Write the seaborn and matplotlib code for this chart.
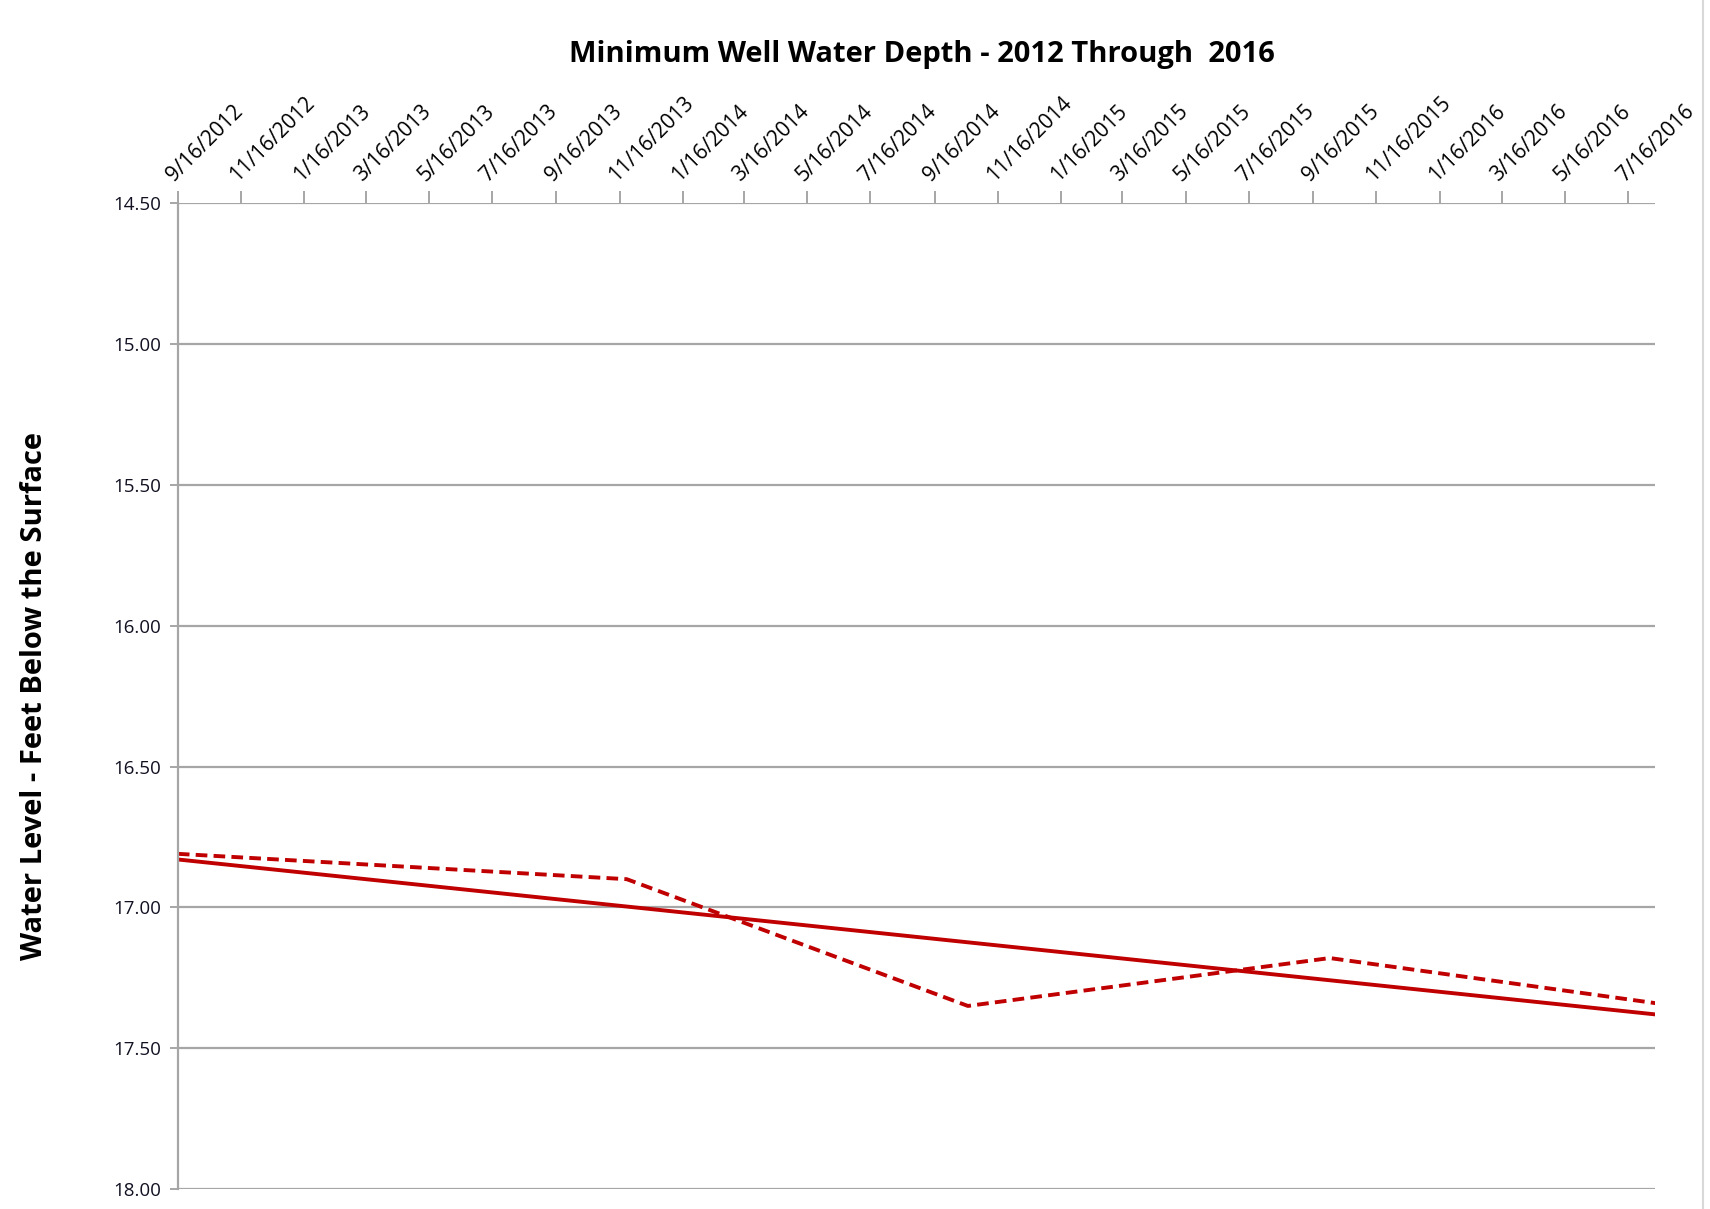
import numpy as np
import pandas as pd
import seaborn as sns
import matplotlib.pyplot as plt

# -------------------------
# Data
# -------------------------
obs_dates = ["2012-09-16", "2013-11-23", "2014-10-18", "2015-10-02", "2016-08-11"]
obs_depth = [16.81, 16.90, 17.35, 17.18, 17.34]

trend_dates = ["2012-09-16", "2016-08-11"]
trend_depth = [16.83, 17.38]

tick_labels = [
    "9/16/2012", "11/16/2012", "1/16/2013", "3/16/2013", "5/16/2013", "7/16/2013",
    "9/16/2013", "11/16/2013", "1/16/2014", "3/16/2014", "5/16/2014", "7/16/2014",
    "9/16/2014", "11/16/2014", "1/16/2015", "3/16/2015", "5/16/2015", "7/16/2015",
    "9/16/2015", "11/16/2015", "1/16/2016", "3/16/2016", "5/16/2016", "7/16/2016",
]
y_ticks = [14.5, 15.0, 15.5, 16.0, 16.5, 17.0, 17.5, 18.0]

obs = pd.DataFrame({"Date": pd.to_datetime(obs_dates), "Depth": obs_depth})
trend = pd.DataFrame({"Date": pd.to_datetime(trend_dates), "Depth": trend_depth})

# -------------------------
# Styling
# -------------------------
sns.set_style("white")
plt.rcParams["font.family"] = ["Open Sans", "DejaVu Sans"]

red = "#C00000"
grid = "#A6A6A6"

fig = plt.figure(figsize=(17.1, 12.09), dpi=100)
ax = fig.add_axes([0.104, 0.0165, 0.864, 0.8155])

sns.lineplot(data=obs, x="Date", y="Depth", ax=ax, color=red, linewidth=2.8,
             linestyle=(0, (3, 1.6)))
sns.lineplot(data=trend, x="Date", y="Depth", ax=ax, color=red, linewidth=2.8)

# inverted depth axis
ax.set_ylim(18.0, 14.5)
ax.set_yticks(y_ticks)
ax.set_yticklabels([f"{v:.2f}" for v in y_ticks], fontsize=13.5, color="#111122")
ax.yaxis.grid(True, color=grid, linewidth=1.6)
ax.set_axisbelow(True)

# date axis on top
tick_pos = pd.to_datetime(tick_labels, format="%m/%d/%Y")
ax.set_xlim(obs["Date"].iloc[0], obs["Date"].iloc[-1])
ax.xaxis.tick_top()
ax.set_xticks(tick_pos)
ax.set_xticklabels(tick_labels, rotation=45, ha="left", va="bottom",
                   rotation_mode="anchor", fontsize=15, color="black")
ax.tick_params(axis="x", which="major", length=9, width=1.4, color=grid, pad=4)
ax.tick_params(axis="y", which="major", length=6, width=1.4, color=grid, pad=6)
ax.tick_params(left=True, top=True, bottom=False)

for side in ["right", "bottom", "top"]:
    ax.spines[side].set_visible(False)
ax.spines["left"].set_color(grid)
ax.spines["left"].set_linewidth(1.6)

ax.set_xlabel("")
ax.set_ylabel("Water Level - Feet Below the Surface", fontsize=21,
              fontweight="bold", labelpad=46, color="black")

fig.text(0.539, 0.955, "Minimum Well Water Depth - 2012 Through  2016",
         ha="center", va="center", fontsize=21, fontweight="bold", color="black")

# thin chart border on the right edge
fig.add_artist(plt.Line2D([0.996, 0.996], [0, 1], color="#D9D9D9", linewidth=1.5,
                          transform=fig.transFigure))

fig.set_facecolor("white")
fig.savefig("out.png", dpi=100)
plt.close(fig)
